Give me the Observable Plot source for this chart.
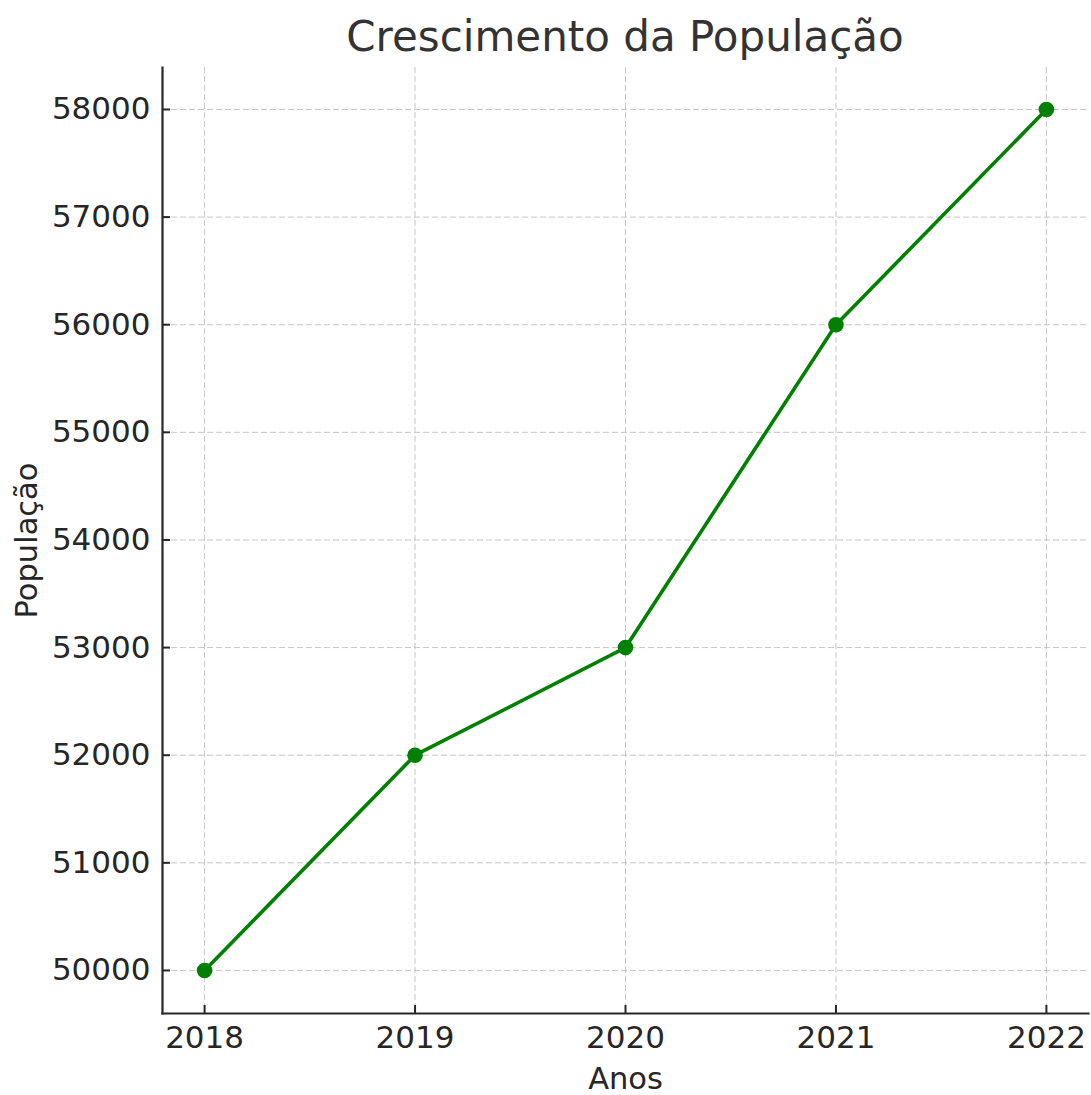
<!DOCTYPE html>
<html>
<head>
<meta charset="utf-8">
<script src="https://cdn.jsdelivr.net/npm/d3@7"></script>
<script src="https://cdn.jsdelivr.net/npm/@observablehq/plot@0.6"></script>
<style>
  body { margin: 0; background: #fff; font-family: "DejaVu Sans", sans-serif; }
  #title { width: 1091px; height: 67px; box-sizing: border-box; padding: 7px 3px 0 162px; line-height: 60px; text-align: center; font-size: 42px; color: #333; white-space: nowrap; }
</style>
</head>
<body>
<div id="title">Crescimento da População</div>
<div id="chart"></div>
<script>
const years = [2018, 2019, 2020, 2021, 2022];
const population = [50000, 52000, 53000, 56000, 58000];
const yTicks = [50000, 51000, 52000, 53000, 54000, 55000, 56000, 57000, 58000];
const xLabel = "Anos";
const yLabel = "População";

const data = years.map((y, i) => ({year: y, pop: population[i]}));
const ink = "#262626";
const grid = {stroke: "#b8b8b8", strokeOpacity: 0.8, strokeDasharray: "6,3", strokeWidth: 1};

const plot = Plot.plot({
  width: 1091,
  height: 1028,
  marginTop: 0,
  marginLeft: 162,
  marginRight: 3,
  marginBottom: 82,
  style: {fontFamily: "DejaVu Sans, sans-serif", fontSize: "31px", color: ink, background: "#fff", overflow: "visible"},
  x: {domain: [2017.8, 2022.2]},
  y: {domain: [49600, 58390]},
  marks: [
    Plot.gridX(years, {...grid}),
    Plot.gridY(yTicks, {...grid}),
    Plot.axisX(years, {tickSize: -8, tickPadding: 20, tickFormat: d => String(d), fontSize: 31, stroke: ink, fill: ink, strokeWidth: 2, label: null}),
    Plot.axisY(yTicks, {tickSize: -8, tickPadding: 20, tickFormat: d => String(d), fontSize: 31, stroke: ink, fill: ink, strokeWidth: 2, label: null}),
    Plot.frame({anchor: "left", stroke: ink, strokeWidth: 2.2}),
    Plot.frame({anchor: "bottom", stroke: ink, strokeWidth: 2.2}),
    Plot.line(data, {x: "year", y: "pop", stroke: "#008000", strokeWidth: 3.6}),
    Plot.dot(data, {x: "year", y: "pop", r: 7.8, fill: "#008000", stroke: "none"}),
    Plot.text([xLabel], {frameAnchor: "bottom", dy: 66, fontSize: 30.5, fill: ink, lineAnchor: "middle", textAnchor: "middle"}),
    Plot.text([yLabel], {frameAnchor: "left", dx: -135, rotate: -90, fontSize: 30.5, fill: ink, lineAnchor: "middle", textAnchor: "middle"})
  ]
});
document.getElementById("chart").appendChild(plot);
</script>
</body>
</html>
